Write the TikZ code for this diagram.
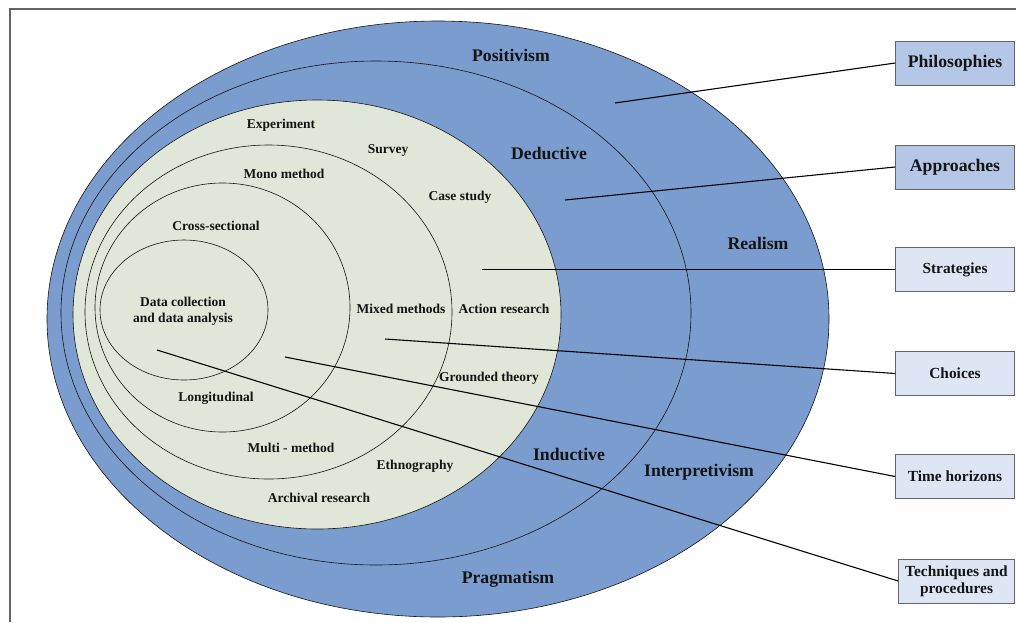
\documentclass[tikz,border=0pt]{standalone}
\usepackage{fontspec}
\setmainfont{Liberation Serif}
\begin{document}
\definecolor{ringblue}{RGB}{123,156,206}
\definecolor{coregreen}{RGB}{224,231,216}
\definecolor{boxdark}{RGB}{180,199,231}
\definecolor{boxlight}{RGB}{222,230,245}
\definecolor{framegray}{RGB}{100,100,100}
\definecolor{ink}{RGB}{20,20,20}
\begin{tikzpicture}[x=1pt,y=-1pt,
  ring/.style={draw=ink,line width=0.6pt},
  link/.style={draw=black,line width=1.1pt},
  biglabel/.style={inner sep=0pt,yshift=-1pt,text=ink,font=\fontsize{17.7}{20}\selectfont\bfseries},
  smalllabel/.style={inner sep=0pt,yshift=-1.5pt,text=ink,align=center,font=\fontsize{13.5}{16}\selectfont\bfseries},
  layerbox/.style={draw=framegray,line width=0.8pt,minimum width=119pt,minimum height=44pt,
    inner sep=2pt,align=center,text=ink},
  bigbox/.style={layerbox,fill=boxdark,font=\fontsize{17.7}{20}\selectfont\bfseries},
  smallbox/.style={layerbox,fill=boxlight,font=\fontsize{15.4}{17}\selectfont\bfseries}]
\useasboundingbox (0,0) rectangle (1016,622);
\fill[white] (0,0) rectangle (1016,622);
% page frame
\draw[framegray,line width=1.8pt] (10,622) -- (10,9) -- (1016,9);

% onion layers
\draw[ring,fill=ringblue] (438,319) ellipse [x radius=391pt, y radius=298pt];
\draw[ring,fill=ringblue] (376,313) ellipse [x radius=315pt, y radius=252pt];
\draw[ring,fill=coregreen] (317,314.5) ellipse [x radius=244pt, y radius=214.5pt];
\draw[ring] (268.5,312) ellipse [x radius=183.5pt, y radius=167pt];
\draw[ring] (222.5,307.5) ellipse [x radius=127.5pt, y radius=124.5pt];
\draw[ring] (184,310) ellipse [x radius=84pt, y radius=70pt];

% layer names on the right
\node[bigbox]   (phil)  at (955,63)  {Philosophies};
\node[bigbox]   (appr)  at (955,167) {Approaches};
\node[smallbox] (strat) at (955,269.5) {Strategies};
\node[smallbox] (choi)  at (955,373.5) {Choices};
\node[smallbox] (time)  at (955,476.5) {Time horizons};
\node[smallbox,minimum width=116pt] (tech) at (956.5,581) {Techniques and\\procedures};

% pointer origins inside the layers
\coordinate (pPhil)  at (615,103);
\coordinate (pAppr)  at (565,200);
\coordinate (pStrat) at (482,269.5);
\coordinate (pChoi)  at (385,339);
\coordinate (pTime)  at (285,357);
\coordinate (pTech)  at (157,350);

\draw[link] (pPhil)  -- (phil.west);
\draw[link] (pAppr)  -- (appr.west);
\draw[link] (pStrat) -- (strat.west);
\draw[link] (pChoi)  -- (choi.west);
\draw[link] (pTime)  -- (time.west);
\draw[link] (pTech)  -- (tech.west);

% philosophies and approaches
\node[biglabel] (positivism) at (511,54)  {Positivism};
\node[biglabel] (deductive)  at (549,152) {Deductive};
\node[biglabel] (realism)    at (758,242) {Realism};
\node[biglabel] (inductive)  at (569,453) {Inductive};
\node[biglabel] (interp)     at (699,471) {Interpretivism};
\node[biglabel] (pragmatism) at (508,578) {Pragmatism};

% strategies, choices, time horizons
\node[smalllabel] (experiment) at (281,124) {Experiment};
\node[smalllabel] (survey)     at (388,149) {Survey};
\node[smalllabel] (mono)       at (284,172) {Mono method};
\node[smalllabel] (casestudy)  at (460,196) {Case study};
\node[smalllabel] (crosssec)   at (216,224) {Cross-sectional};
\node[smalllabel] (datacoll)   at (183,310) {Data collection\\and data analysis};
\node[smalllabel] (mixed)      at (401,307) {Mixed methods};
\node[smalllabel] (action)     at (504,307) {Action research};
\node[smalllabel] (grounded)   at (489,377) {Grounded theory};
\node[smalllabel] (longit)     at (216,397) {Longitudinal};
\node[smalllabel] (multi)      at (291,446) {Multi - method};
\node[smalllabel] (ethno)      at (415,465) {Ethnography};
\node[smalllabel] (archival)   at (319,496) {Archival research};
\end{tikzpicture}
\end{document}
